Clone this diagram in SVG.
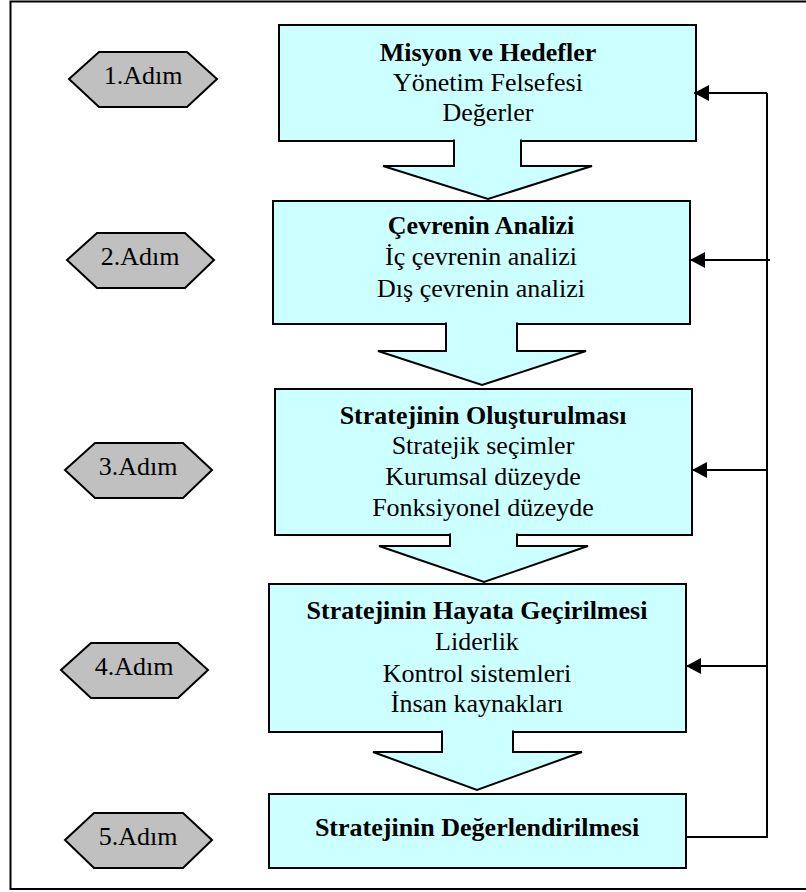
<svg xmlns="http://www.w3.org/2000/svg" width="806" height="892" viewBox="0 0 806 892">
  <defs>
    <marker id="arrowhead" markerUnits="userSpaceOnUse" markerWidth="16" markerHeight="16" refX="15" refY="8" orient="auto">
      <path d="M0,0 L15,8 L0,16 Z" fill="#000"/>
    </marker>
    <style>
      .box { fill: #CCFFFF; stroke: #000; stroke-width: 2; }
      .flow { fill: #CCFFFF; stroke: #000; stroke-width: 2; stroke-linejoin: miter; }
      .hex { fill: #C0C0C0; stroke: #000; stroke-width: 2; }
      .txt { font-family: "Liberation Serif", "Times New Roman", serif; font-size: 26px; fill: #000; text-anchor: middle; }
      .b { font-weight: bold; }
      .link { fill: none; stroke: #000; stroke-width: 2; }
    </style>
  </defs>

  <rect width="806" height="892" fill="#fff"/>
  <!-- outer frame (right side runs off the page) -->
  <path d="M810,1.5 H10.5 V889 H810" fill="none" stroke="#000" stroke-width="2"/>

  <!-- step labels -->
  <g id="step1">
    <polygon class="hex" points="69,79 99,52 187,52 217,79 187,107 99,107"/>
    <text class="txt" x="143" y="84">1.Adım</text>
  </g>
  <g id="step2">
    <polygon class="hex" points="67,260 97,233 185,233 214,260 185,288 97,288"/>
    <text class="txt" x="140" y="265">2.Adım</text>
  </g>
  <g id="step3">
    <polygon class="hex" points="65,470 95,443 183,443 212,470 183,498 95,498"/>
    <text class="txt" x="138" y="475">3.Adım</text>
  </g>
  <g id="step4">
    <polygon class="hex" points="61,670 91,643 178,643 208,670 178,698 91,698"/>
    <text class="txt" x="134" y="675">4.Adım</text>
  </g>
  <g id="step5">
    <polygon class="hex" points="65,840 94,813 183,813 212,840 183,868 94,868"/>
    <text class="txt" x="138" y="845">5.Adım</text>
  </g>

  <!-- process boxes -->
  <g id="mission">
    <rect class="box" x="279" y="25" width="417" height="116"/>
    <text class="txt b" x="488" y="61">Misyon ve Hedefler</text>
    <text class="txt" x="488" y="91">Yönetim Felsefesi</text>
    <text class="txt" x="488" y="121">Değerler</text>
  </g>
  <g id="environment">
    <rect class="box" x="273" y="201" width="417" height="123"/>
    <text class="txt b" x="481" y="234">Çevrenin Analizi</text>
    <text class="txt" x="481" y="265">İç çevrenin analizi</text>
    <text class="txt" x="481" y="297">Dış çevrenin analizi</text>
  </g>
  <g id="formulation">
    <rect class="box" x="275" y="389" width="417" height="146"/>
    <text class="txt b" x="483" y="424">Stratejinin Oluşturulması</text>
    <text class="txt" x="483" y="454">Stratejik seçimler</text>
    <text class="txt" x="483" y="485">Kurumsal düzeyde</text>
    <text class="txt" x="483" y="516">Fonksiyonel düzeyde</text>
  </g>
  <g id="implementation">
    <rect class="box" x="269" y="584" width="417" height="148"/>
    <text class="txt b" x="477" y="619">Stratejinin Hayata Geçirilmesi</text>
    <text class="txt" x="477" y="650">Liderlik</text>
    <text class="txt" x="477" y="682">Kontrol sistemleri</text>
    <text class="txt" x="477" y="712">İnsan kaynakları</text>
  </g>
  <g id="evaluation">
    <rect class="box" x="269" y="794" width="417" height="74"/>
    <text class="txt b" x="477" y="836">Stratejinin Değerlendirilmesi</text>
  </g>

  <!-- connectors -->
  <g id="connectors">
    <!-- block arrows between stages (open at top so they merge into the box above) -->
    <path class="flow" d="M454,139.5 V166 H383 L488,199 L592,166 H521 V139.5"/>
    <path class="flow" d="M446,322.5 V351 H378 L482,385 L586,351 H517 V322.5"/>
    <path class="flow" d="M450,533.5 V546 H379 L484,582 L588,546 H517 V533.5"/>
    <path class="flow" d="M442,730.5 V752 H373 L477,790 L582,752 H513 V730.5"/>

    <!-- feedback loop -->
    <polyline class="link" points="686,837 767,837 767,93"/>
    <line class="link" x1="767" y1="93" x2="694" y2="93" marker-end="url(#arrowhead)"/>
    <line class="link" x1="770" y1="260" x2="690" y2="260" marker-end="url(#arrowhead)"/>
    <line class="link" x1="767" y1="470" x2="692" y2="470" marker-end="url(#arrowhead)"/>
    <line class="link" x1="767" y1="666" x2="686" y2="666" marker-end="url(#arrowhead)"/>
  </g>
</svg>
